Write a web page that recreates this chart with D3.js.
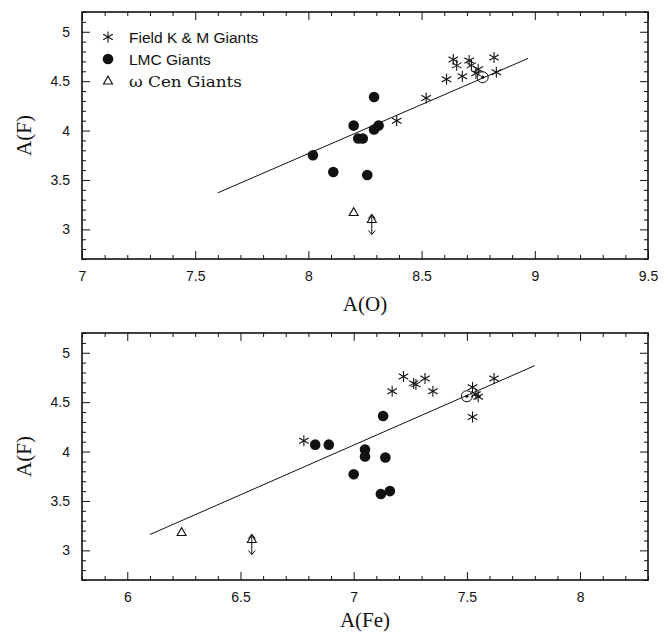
<!DOCTYPE html>
<html><head><meta charset="utf-8">
<script src="https://cdn.jsdelivr.net/npm/d3@7"></script>
<style>body{margin:0;background:#fff}svg{display:block}</style>
</head><body>
<svg id="c" width="668" height="635"></svg>
<script>
// ---------- DATA ----------
// Top panel: A(O) vs A(F)
const fieldO = [[8.39,4.10],[8.52,4.33],[8.61,4.52],[8.64,4.72],[8.655,4.66],[8.68,4.55],[8.71,4.71],[8.72,4.66],[8.74,4.58],[8.75,4.62],[8.82,4.74],[8.83,4.59]];
const lmcO = [[8.29,4.34],[8.20,4.05],[8.31,4.05],[8.29,4.01],[8.22,3.92],[8.24,3.92],[8.02,3.75],[8.11,3.58],[8.26,3.55]];
const cenO = [[8.20,3.17]];
const cenLimO = [[8.28,3.10]];
const sunO = [[8.77,4.54]];
const fitO = [[7.60,3.37],[8.97,4.73]];
// Bottom panel: A(Fe) vs A(F)
const fieldFe = [[6.78,4.11],[7.17,4.61],[7.22,4.76],[7.265,4.69],[7.275,4.68],[7.315,4.74],[7.35,4.61],[7.525,4.65],[7.54,4.58],[7.55,4.555],[7.525,4.35],[7.62,4.74]];
const lmcFe = [[6.83,4.07],[6.89,4.07],[7.13,4.36],[7.05,4.02],[7.05,3.95],[7.14,3.94],[7.00,3.77],[7.12,3.57],[7.16,3.60]];
const cenFe = [[6.24,3.18]];
const cenLimFe = [[6.55,3.11]];
const sunFe = [[7.50,4.56]];
const fitFe = [[6.10,3.16],[7.80,4.87]];
// Axes / ticks
const yMajor = [3,3.5,4,4.5,5];
const xMajorO = [7,7.5,8,8.5,9,9.5];
const xMajorFe = [6,6.5,7,7.5,8];
const legendLabels = ["Field K & M Giants","LMC Giants","ω Cen Giants"];

// ---------- DRAW ----------
const svg = d3.select("#c");
const L = 82, R = 648;

function asterisk(g, cx, cy, r){
  [90,30,-30].forEach(a=>{
    const t = a*Math.PI/180, dx = r*Math.cos(t), dy = r*Math.sin(t);
    g.append("line").attr("x1",cx-dx).attr("y1",cy-dy).attr("x2",cx+dx).attr("y2",cy+dy)
      .attr("stroke","#111").attr("stroke-width",1.1);
  });
}
function triangle(g, cx, cy, s){
  const h = s*0.87;
  g.append("path").attr("d",`M${cx},${cy-h*0.62}L${cx+s/2},${cy+h*0.38}L${cx-s/2},${cy+h*0.38}Z`)
    .attr("fill","none").attr("stroke","#111").attr("stroke-width",1.1);
}

function panel(cfg){
  const x = d3.scaleLinear().domain(cfg.xd).range([L,R]);
  const y = d3.scaleLinear().domain([2.7,5.2]).range([cfg.bottom,cfg.top]);
  const g = svg.append("g");
  const minorX = d3.range(Math.ceil(cfg.xd[0]*10), Math.floor(cfg.xd[1]*10)+1).map(v=>v/10).filter(v=>Math.abs(v*2-Math.round(v*2))>1e-6);
  const minorY = d3.range(27, 53).map(v=>v/10).filter(v=>Math.abs(v*2-Math.round(v*2))>1e-6);
  const style = sel=>{ sel.select(".domain").remove(); sel.selectAll("line").attr("stroke","#111").attr("stroke-width",1);
    sel.selectAll("text").attr("font-family","Liberation Sans, Arial, sans-serif").attr("font-size",14).attr("fill","#111"); };
  // bottom
  g.append("g").attr("transform",`translate(0,${cfg.bottom})`)
    .call(d3.axisBottom(x).tickValues(cfg.xMajor).tickSizeInner(-8).tickSizeOuter(0).tickPadding(12).tickFormat(d=>String(d))).call(style);
  g.append("g").attr("transform",`translate(0,${cfg.bottom})`)
    .call(d3.axisBottom(x).tickValues(minorX).tickSizeInner(-4).tickSizeOuter(0).tickFormat("")).call(style);
  // top
  g.append("g").attr("transform",`translate(0,${cfg.top})`)
    .call(d3.axisTop(x).tickValues(cfg.xMajor).tickSizeInner(-8).tickSizeOuter(0).tickFormat("")).call(style);
  g.append("g").attr("transform",`translate(0,${cfg.top})`)
    .call(d3.axisTop(x).tickValues(minorX).tickSizeInner(-4).tickSizeOuter(0).tickFormat("")).call(style);
  // left
  g.append("g").attr("transform",`translate(${L},0)`)
    .call(d3.axisLeft(y).tickValues(yMajor).tickSizeInner(-8).tickSizeOuter(0).tickPadding(12).tickFormat(d=>String(d))).call(style);
  g.append("g").attr("transform",`translate(${L},0)`)
    .call(d3.axisLeft(y).tickValues(minorY).tickSizeInner(-4).tickSizeOuter(0).tickFormat("")).call(style);
  // right
  g.append("g").attr("transform",`translate(${R},0)`)
    .call(d3.axisRight(y).tickValues(yMajor).tickSizeInner(-8).tickSizeOuter(0).tickFormat("")).call(style);
  g.append("g").attr("transform",`translate(${R},0)`)
    .call(d3.axisRight(y).tickValues(minorY).tickSizeInner(-4).tickSizeOuter(0).tickFormat("")).call(style);
  // frame
  g.append("rect").attr("x",L).attr("y",cfg.top).attr("width",R-L).attr("height",cfg.bottom-cfg.top)
    .attr("fill","none").attr("stroke","#111").attr("stroke-width",1.6);
  // fit line
  g.append("path").attr("d",d3.line().x(d=>x(d[0])).y(d=>y(d[1]))(cfg.fit))
    .attr("fill","none").attr("stroke","#111").attr("stroke-width",1);
  // LMC
  g.selectAll(null).data(cfg.lmc).join("circle").attr("cx",d=>x(d[0])).attr("cy",d=>y(d[1])).attr("r",5.3).attr("fill","#111");
  // field
  cfg.field.forEach(d=>asterisk(g,x(d[0]),y(d[1]),5.5));
  // sun
  cfg.sun.forEach(d=>{
    g.append("circle").attr("cx",x(d[0])).attr("cy",y(d[1])).attr("r",5.5).attr("fill","none").attr("stroke","#111").attr("stroke-width",1);
    g.append("circle").attr("cx",x(d[0])).attr("cy",y(d[1])).attr("r",1.6).attr("fill","#111");
  });
  // omega Cen
  cfg.cen.forEach(d=>triangle(g,x(d[0]),y(d[1]),9));
  cfg.cenLim.forEach(d=>{
    const cx=x(d[0]), cy=y(d[1]);
    triangle(g,cx,cy,9);
    const t=cy-5, b=cy+15;
    g.append("path").attr("d",`M${cx},${t}L${cx},${b}M${cx-3.5},${t+4}L${cx},${t}L${cx+3.5},${t+4}M${cx-3.5},${b-4}L${cx},${b}L${cx+3.5},${b-4}`)
      .attr("fill","none").attr("stroke","#111").attr("stroke-width",1);
  });
  // axis titles
  g.append("text").attr("x",(L+R)/2).attr("y",cfg.bottom+cfg.titleOff).attr("text-anchor","middle")
    .attr("font-family","Liberation Serif, Times New Roman, serif").attr("font-size",21).attr("fill","#111").text(cfg.xTitle);
  g.append("text").attr("transform",`translate(31,${(cfg.top+cfg.bottom)/2}) rotate(-90)`).attr("text-anchor","middle")
    .attr("font-family","Liberation Serif, Times New Roman, serif").attr("font-size",21).attr("fill","#111").text("A(F)");
}

panel({xd:[7,9.5], top:12, bottom:259, titleOff:52, xMajor:xMajorO, field:fieldO, lmc:lmcO, cen:cenO, cenLim:cenLimO, sun:sunO, fit:fitO, xTitle:"A(O)"});
panel({xd:[5.8,8.3], top:333, bottom:580, titleOff:47, xMajor:xMajorFe, field:fieldFe, lmc:lmcFe, cen:cenFe, cenLim:cenLimFe, sun:sunFe, fit:fitFe, xTitle:"A(Fe)"});

// legend
const lg = svg.append("g");
const ly = [37,59,81];
asterisk(lg,108,ly[0],5.5);
lg.append("circle").attr("cx",108).attr("cy",ly[1]).attr("r",5.3).attr("fill","#111");
triangle(lg,108,ly[2],9);
legendLabels.forEach((t,i)=>{
  const tx = lg.append("text").attr("x",129).attr("y",ly[i]+5.5)
    .attr("font-family", i===2 ? "DejaVu Serif, serif" : "Liberation Sans, Arial, sans-serif")
    .attr("font-size", i===2 ? 15 : 15.5).attr("fill","#111").text(t);
  if(i===2) tx.attr("textLength",113).attr("lengthAdjust","spacingAndGlyphs");
});
</script>
</body></html>
